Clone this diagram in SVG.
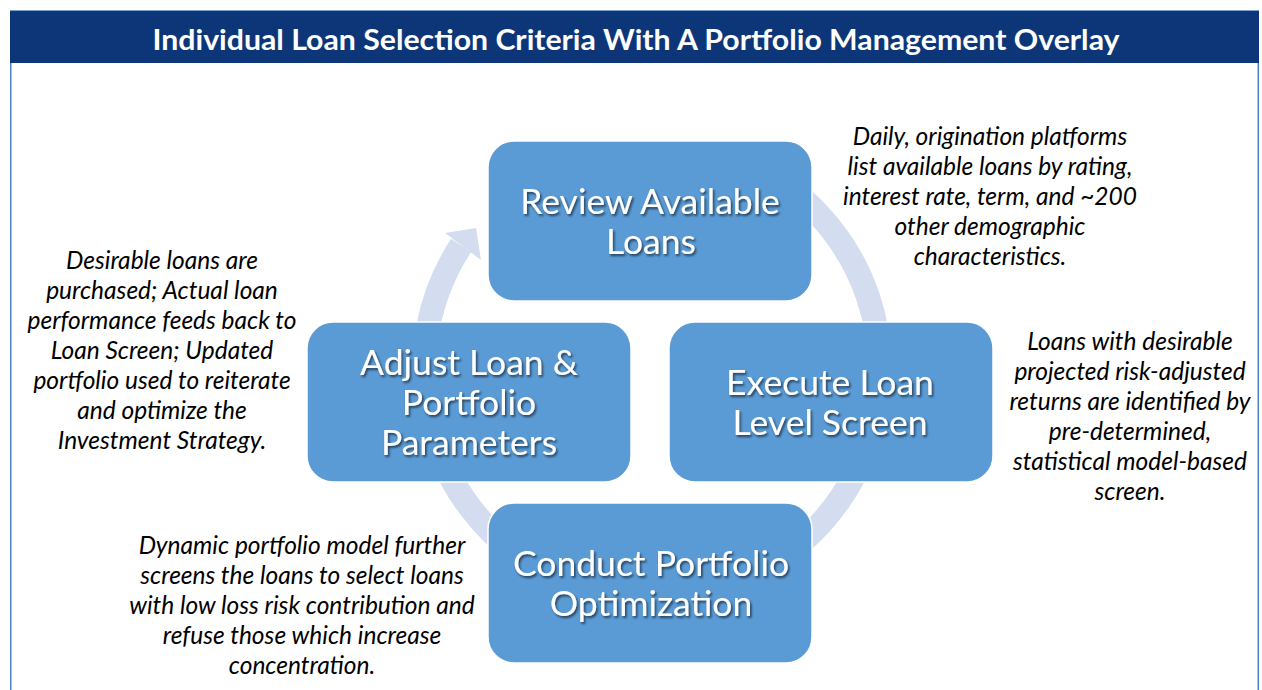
<svg xmlns="http://www.w3.org/2000/svg" width="1262" height="690" viewBox="0 0 1262 690">
  <style>
    .title { font-family: "Lato", "Open Sans", sans-serif; font-weight: bold; font-size: 28px; fill: #ffffff; text-anchor: middle; }
    .box { fill: #5B9BD5; stroke: #ffffff; stroke-width: 1.5; }
    .boxtext { font-family: "Lato", "Open Sans", sans-serif; font-size: 35.5px; fill: #ffffff; text-anchor: middle; filter: url(#shadow); }
    .note { font-family: "Lato", "Open Sans", sans-serif; font-style: italic; font-size: 24.5px; fill: #000000; text-anchor: middle; }
    .ring { fill: none; stroke: #D3DDEF; stroke-width: 24; }
    .ringhead { fill: #D3DDEF; }
  </style>
  <defs>
    <filter id="shadow" x="-10%" y="-30%" width="120%" height="160%">
      <feDropShadow dx="1.5" dy="2" stdDeviation="1.2" flood-color="#102030" flood-opacity="0.75"/>
    </filter>
  </defs>
  <rect x="0" y="0" width="1262" height="690" fill="#ffffff"/>
  <g id="frame">
    <rect x="10.75" y="11" width="1247.5" height="700" fill="none" stroke="#4F81C7" stroke-width="1.5"/>
    <rect x="10" y="11" width="1249" height="52" fill="#0D3679"/>
    <text class="title" x="636" y="50" textLength="967" lengthAdjust="spacingAndGlyphs">Individual Loan Selection Criteria With A Portfolio Management Overlay</text>
  </g>
  <g id="connectors">
    <path class="ring" d="M 748.4,163.4 A 228 228 0 1 1 461.1,245.4"/>
    <polygon class="ringhead" points="445,233 481,260 476,228"/>
  </g>
  <g id="node-review">
    <rect class="box" x="488" y="141" width="324" height="160" rx="26"/>
    <text class="boxtext" x="650" y="214">Review Available</text>
    <text class="boxtext" x="651" y="254">Loans</text>
  </g>
  <g id="node-execute">
    <rect class="box" x="669" y="322" width="324" height="160" rx="26"/>
    <text class="boxtext" x="830" y="395">Execute Loan</text>
    <text class="boxtext" x="830" y="435">Level Screen</text>
  </g>
  <g id="node-conduct">
    <rect class="box" x="488" y="503" width="324" height="160" rx="26"/>
    <text class="boxtext" x="651" y="576">Conduct Portfolio</text>
    <text class="boxtext" x="651" y="616">Optimization</text>
  </g>
  <g id="node-adjust">
    <rect class="box" x="307" y="322" width="324" height="160" rx="26"/>
    <text class="boxtext" x="469" y="375">Adjust Loan &amp;</text>
    <text class="boxtext" x="469" y="415">Portfolio</text>
    <text class="boxtext" x="469" y="455">Parameters</text>
  </g>
  <g id="note-review">
    <text class="note" x="990" y="145">Daily, origination platforms</text>
    <text class="note" x="990" y="175">list available loans by rating,</text>
    <text class="note" x="990" y="205">interest rate, term, and ~200</text>
    <text class="note" x="990" y="235">other demographic</text>
    <text class="note" x="990" y="265">characteristics.</text>
  </g>
  <g id="note-execute">
    <text class="note" x="1130" y="350">Loans with desirable</text>
    <text class="note" x="1130" y="380">projected risk-adjusted</text>
    <text class="note" x="1130" y="410">returns are identified by</text>
    <text class="note" x="1130" y="440">pre-determined,</text>
    <text class="note" x="1130" y="470">statistical model-based</text>
    <text class="note" x="1130" y="500">screen.</text>
  </g>
  <g id="note-conduct">
    <text class="note" x="302" y="554">Dynamic portfolio model further</text>
    <text class="note" x="302" y="584">screens the loans to select loans</text>
    <text class="note" x="302" y="614">with low loss risk contribution and</text>
    <text class="note" x="302" y="644">refuse those which increase</text>
    <text class="note" x="302" y="674">concentration.</text>
  </g>
  <g id="note-adjust">
    <text class="note" x="162" y="269">Desirable loans are</text>
    <text class="note" x="162" y="299">purchased; Actual loan</text>
    <text class="note" x="162" y="329">performance feeds back to</text>
    <text class="note" x="162" y="359">Loan Screen; Updated</text>
    <text class="note" x="162" y="389">portfolio used to reiterate</text>
    <text class="note" x="162" y="419">and optimize the</text>
    <text class="note" x="162" y="449">Investment Strategy.</text>
  </g>
</svg>
